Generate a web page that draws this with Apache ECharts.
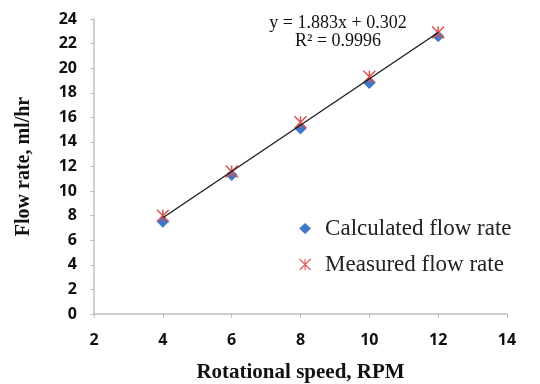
<!DOCTYPE html>
<html>
<head>
<meta charset="utf-8">
<script src="https://cdn.jsdelivr.net/npm/echarts@6/dist/echarts.min.js"></script>
<style>
  html, body { margin: 0; padding: 0; background: #fff; }
  #chart { width: 540px; height: 384px; }
</style>
</head>
<body>
<div id="chart"></div>
<script>
// rotational speed (RPM) and flow rates (ml/hr)
const speeds = [4, 6, 8, 10, 12];
const calculated = [7.5, 11.3, 15.1, 18.8, 22.6];
const measured = [8.0, 11.6, 15.6, 19.3, 22.9];
// linear fit y = 1.883x + 0.302, drawn between the first and last speed
const trendX = [4, 12];
const trendY = [7.83, 22.9];
const fitLabel = ['y = 1.883x + 0.302', 'R² = 0.9996'];

const asterisk = 'path://M0,0L10,10M10,0L0,10M5,0L5,10';
const serif = '"Liberation Serif", "DejaVu Serif", serif';
const sans = '"Open Sans", "Liberation Sans", sans-serif';

const chart = echarts.init(document.getElementById('chart'));
chart.setOption({
  animation: false,
  grid: { left: 94, right: 33, top: 19, bottom: 70, outerBoundsMode: 'none' },
  graphic: fitLabel.map((t, i) => ({
    type: 'text',
    x: 338,
    y: 14 + i * 18,
    style: { text: t, font: '18px ' + serif, fill: '#111', align: 'center' },
  })),
  legend: {
    orient: 'vertical',
    left: 294,
    top: 212,
    itemGap: 13,
    itemWidth: 12,
    itemHeight: 11,
    textStyle: { fontFamily: serif, fontSize: 23, color: '#222', padding: [0, 0, 0, 9] },
    data: [
      { name: 'Calculated flow rate', icon: 'diamond' },
      { name: 'Measured flow rate', icon: asterisk, itemStyle: { color: 'transparent', borderColor: '#e06060', borderWidth: 1.2 } },
    ],
  },
  xAxis: {
    type: 'value',
    min: 2,
    max: 14,
    interval: 2,
    name: 'Rotational speed, RPM',
    nameLocation: 'middle',
    nameGap: 48,
    nameTextStyle: { fontFamily: serif, fontWeight: 'bold', fontSize: 21, color: '#111' },
    axisLine: { lineStyle: { color: '#bfbfbf', width: 1.5 } },
    axisTick: { show: true, length: 4, lineStyle: { color: '#bfbfbf' } },
    axisLabel: { fontFamily: sans, fontWeight: 'bold', fontSize: 16, color: '#111', margin: 18 },
    splitLine: { show: false },
  },
  yAxis: {
    type: 'value',
    min: 0,
    max: 24,
    interval: 2,
    name: 'Flow rate, ml/hr',
    nameLocation: 'middle',
    nameGap: 60,
    nameTextStyle: { fontFamily: serif, fontWeight: 'bold', fontSize: 20, color: '#111' },
    axisLine: { show: true, lineStyle: { color: '#bfbfbf', width: 1.5 } },
    axisTick: { show: true, length: 4, lineStyle: { color: '#bfbfbf' } },
    axisLabel: { fontFamily: sans, fontWeight: 'bold', fontSize: 16, color: '#111', margin: 17 },
    splitLine: { show: false },
  },
  series: [
    {
      name: 'Calculated flow rate',
      type: 'scatter',
      symbol: 'diamond',
      symbolSize: 12,
      itemStyle: { color: '#3f78c8', opacity: 1 },
      data: speeds.map((x, i) => [x, calculated[i]]),
      z: 2,
    },
    {
      name: 'Measured flow rate',
      type: 'scatter',
      symbol: asterisk,
      symbolSize: 12,
      itemStyle: { color: 'transparent', borderColor: '#d9534f', borderWidth: 1.5, opacity: 1 },
      data: speeds.map((x, i) => [x, measured[i]]),
      z: 3,
    },
    {
      name: 'Linear fit',
      type: 'line',
      symbol: 'none',
      lineStyle: { color: '#1a1a1a', width: 1.3 },
      data: trendX.map((x, i) => [x, trendY[i]]),
      z: 4,
    },
  ],
});
</script>
</body>
</html>
